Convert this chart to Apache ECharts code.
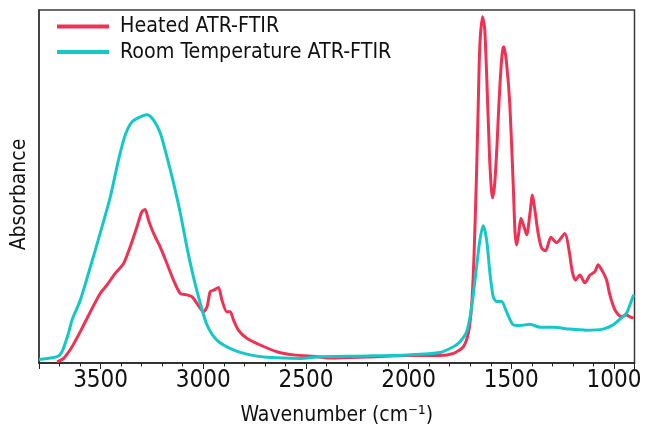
<!DOCTYPE html>
<html>
<head>
<meta charset="utf-8">
<script src="https://cdn.jsdelivr.net/npm/echarts@6/dist/echarts.min.js"></script>
<style>
html,body{margin:0;padding:0;background:#fff;}
#chart{width:649px;height:427px;}
</style>
</head>
<body>
<div id="chart"></div>
<script>
// Wavenumber (cm-1) and absorbance (arbitrary, 0..1 of plot height)
const heatedWavenumber = [3712,3680,3639,3599,3550,3502,3469,3429,3388,3356,3323,3299,3283,3267,3242,3210,3177,3145,3112,3080,3055,3031,2999,2982,2966,2947,2926,2909,2885,2869,2853,2829,2788,2723,2642,2561,2447,2382,2200,2003,1847,1782,1734,1709,1693,1681,1669,1661,1653,1640,1629,1612,1604,1592,1582,1571,1563,1555,1547,1540,1536,1523,1507,1490,1482,1474,1464,1453,1438,1425,1409,1397,1385,1369,1352,1333,1307,1279,1239,1219,1203,1187,1166,1142,1117,1093,1077,1057,1036,1020,995,963,939,923,904];
const heatedAbsorbance = [0.003,0.013,0.046,0.089,0.145,0.197,0.221,0.254,0.282,0.329,0.386,0.429,0.435,0.405,0.367,0.329,0.282,0.235,0.197,0.193,0.188,0.169,0.145,0.159,0.202,0.207,0.214,0.178,0.145,0.145,0.122,0.093,0.070,0.051,0.032,0.023,0.018,0.014,0.017,0.021,0.021,0.027,0.046,0.085,0.164,0.312,0.542,0.731,0.901,0.981,0.943,0.684,0.561,0.468,0.500,0.600,0.700,0.790,0.860,0.893,0.896,0.849,0.731,0.496,0.372,0.334,0.367,0.410,0.386,0.363,0.424,0.476,0.433,0.367,0.325,0.318,0.356,0.341,0.367,0.320,0.259,0.235,0.249,0.227,0.249,0.259,0.278,0.261,0.235,0.193,0.150,0.131,0.136,0.131,0.127];

const roomWavenumber = [3800,3712,3688,3656,3639,3599,3550,3502,3453,3413,3380,3347,3307,3274,3242,3210,3177,3145,3112,3080,3048,3015,2982,2934,2853,2772,2690,2528,2431,2200,2003,1847,1782,1750,1717,1693,1669,1653,1637,1620,1604,1588,1571,1547,1523,1490,1458,1409,1360,1296,1215,1134,1053,1004,971,939,923,904];
const roomAbsorbance = [0.010,0.018,0.032,0.085,0.122,0.178,0.272,0.368,0.470,0.575,0.646,0.683,0.697,0.703,0.688,0.652,0.584,0.510,0.425,0.329,0.244,0.170,0.108,0.065,0.037,0.023,0.016,0.013,0.018,0.020,0.023,0.030,0.046,0.060,0.089,0.159,0.273,0.348,0.389,0.348,0.255,0.188,0.174,0.174,0.145,0.108,0.106,0.110,0.101,0.101,0.096,0.093,0.096,0.108,0.124,0.141,0.164,0.193];

const seriesNames = ['Heated ATR-FTIR', 'Room Temperature ATR-FTIR'];
const tickLabels = [3500, 3000, 2500, 2000, 1500, 1000];
const xTitle = 'Wavenumber (cm⁻¹)';
const yTitle = 'Absorbance';

const FONT = "'DejaVu Sans Condensed', 'DejaVu Sans', sans-serif";
const zip = (a, b) => a.map((x, i) => [x, b[i]]);

const chart = echarts.init(document.getElementById('chart'), null, {renderer: 'canvas'});
chart.setOption({
  animation: false,
  backgroundColor: '#ffffff',
  grid: {left: 39, right: 14.5, top: 10, bottom: 64, containLabel: false, outerBoundsMode: 'none',
         show: true, borderColor: '#3a3a3a', borderWidth: 1.5},
  legend: {
    orient: 'vertical', left: 57, top: 16, padding: 0, itemGap: 4.6,
    itemWidth: 52, itemHeight: 4, icon: 'rect',
    textStyle: {fontFamily: FONT, fontSize: 21.3, color: '#111', lineHeight: 21, padding: [0, 0, 0, 6]},
    data: seriesNames
  },
  xAxis: [{
    type: 'value', min: 900, max: 3800, interval: 100, inverse: true,
    name: xTitle, nameLocation: 'middle', nameGap: 42,
    nameTextStyle: {fontFamily: FONT, fontSize: 21, color: '#111'},
    axisLine: {show: true, lineStyle: {color: '#222', width: 1.5}},
    axisTick: {show: true, length: 3.5, lineStyle: {color: '#222', width: 1}},
    axisLabel: {
      fontFamily: FONT, fontSize: 24, color: '#111', margin: 6,
      showMinLabel: false, showMaxLabel: false,
      formatter: v => tickLabels.includes(v) ? String(v) : ''
    },
    splitLine: {show: false}
  }, {
    type: 'value', min: 900, max: 3800, inverse: true, position: 'bottom', offset: 0, splitNumber: 5,
    axisLine: {show: false},
    axisTick: {show: true, length: 6, lineStyle: {color: '#222', width: 1}},
    axisLabel: {show: false},
    splitLine: {show: false}
  }],
  yAxis: {
    type: 'value', min: 0, max: 1,
    name: yTitle, nameLocation: 'middle', nameGap: 9, nameRotate: 90,
    nameTextStyle: {fontFamily: FONT, fontSize: 21, color: '#111', padding: [0, 16, 0, 0]},
    axisLine: {show: true, lineStyle: {color: '#3a3a3a', width: 1.5}},
    axisTick: {show: false},
    axisLabel: {show: false},
    splitLine: {show: false}
  },
  series: [{
    name: seriesNames[0], type: 'line', xAxisIndex: 0,
    data: zip(heatedWavenumber, heatedAbsorbance),
    showSymbol: false, smooth: 0.25, color: '#ef3253',
    lineStyle: {width: 3, color: '#ef3253'}
  }, {
    name: seriesNames[1], type: 'line', xAxisIndex: 0,
    data: zip(roomWavenumber, roomAbsorbance),
    showSymbol: false, smooth: 0.25, color: '#15c8c8',
    lineStyle: {width: 3, color: '#15c8c8'}
  }]
});
</script>
</body>
</html>
